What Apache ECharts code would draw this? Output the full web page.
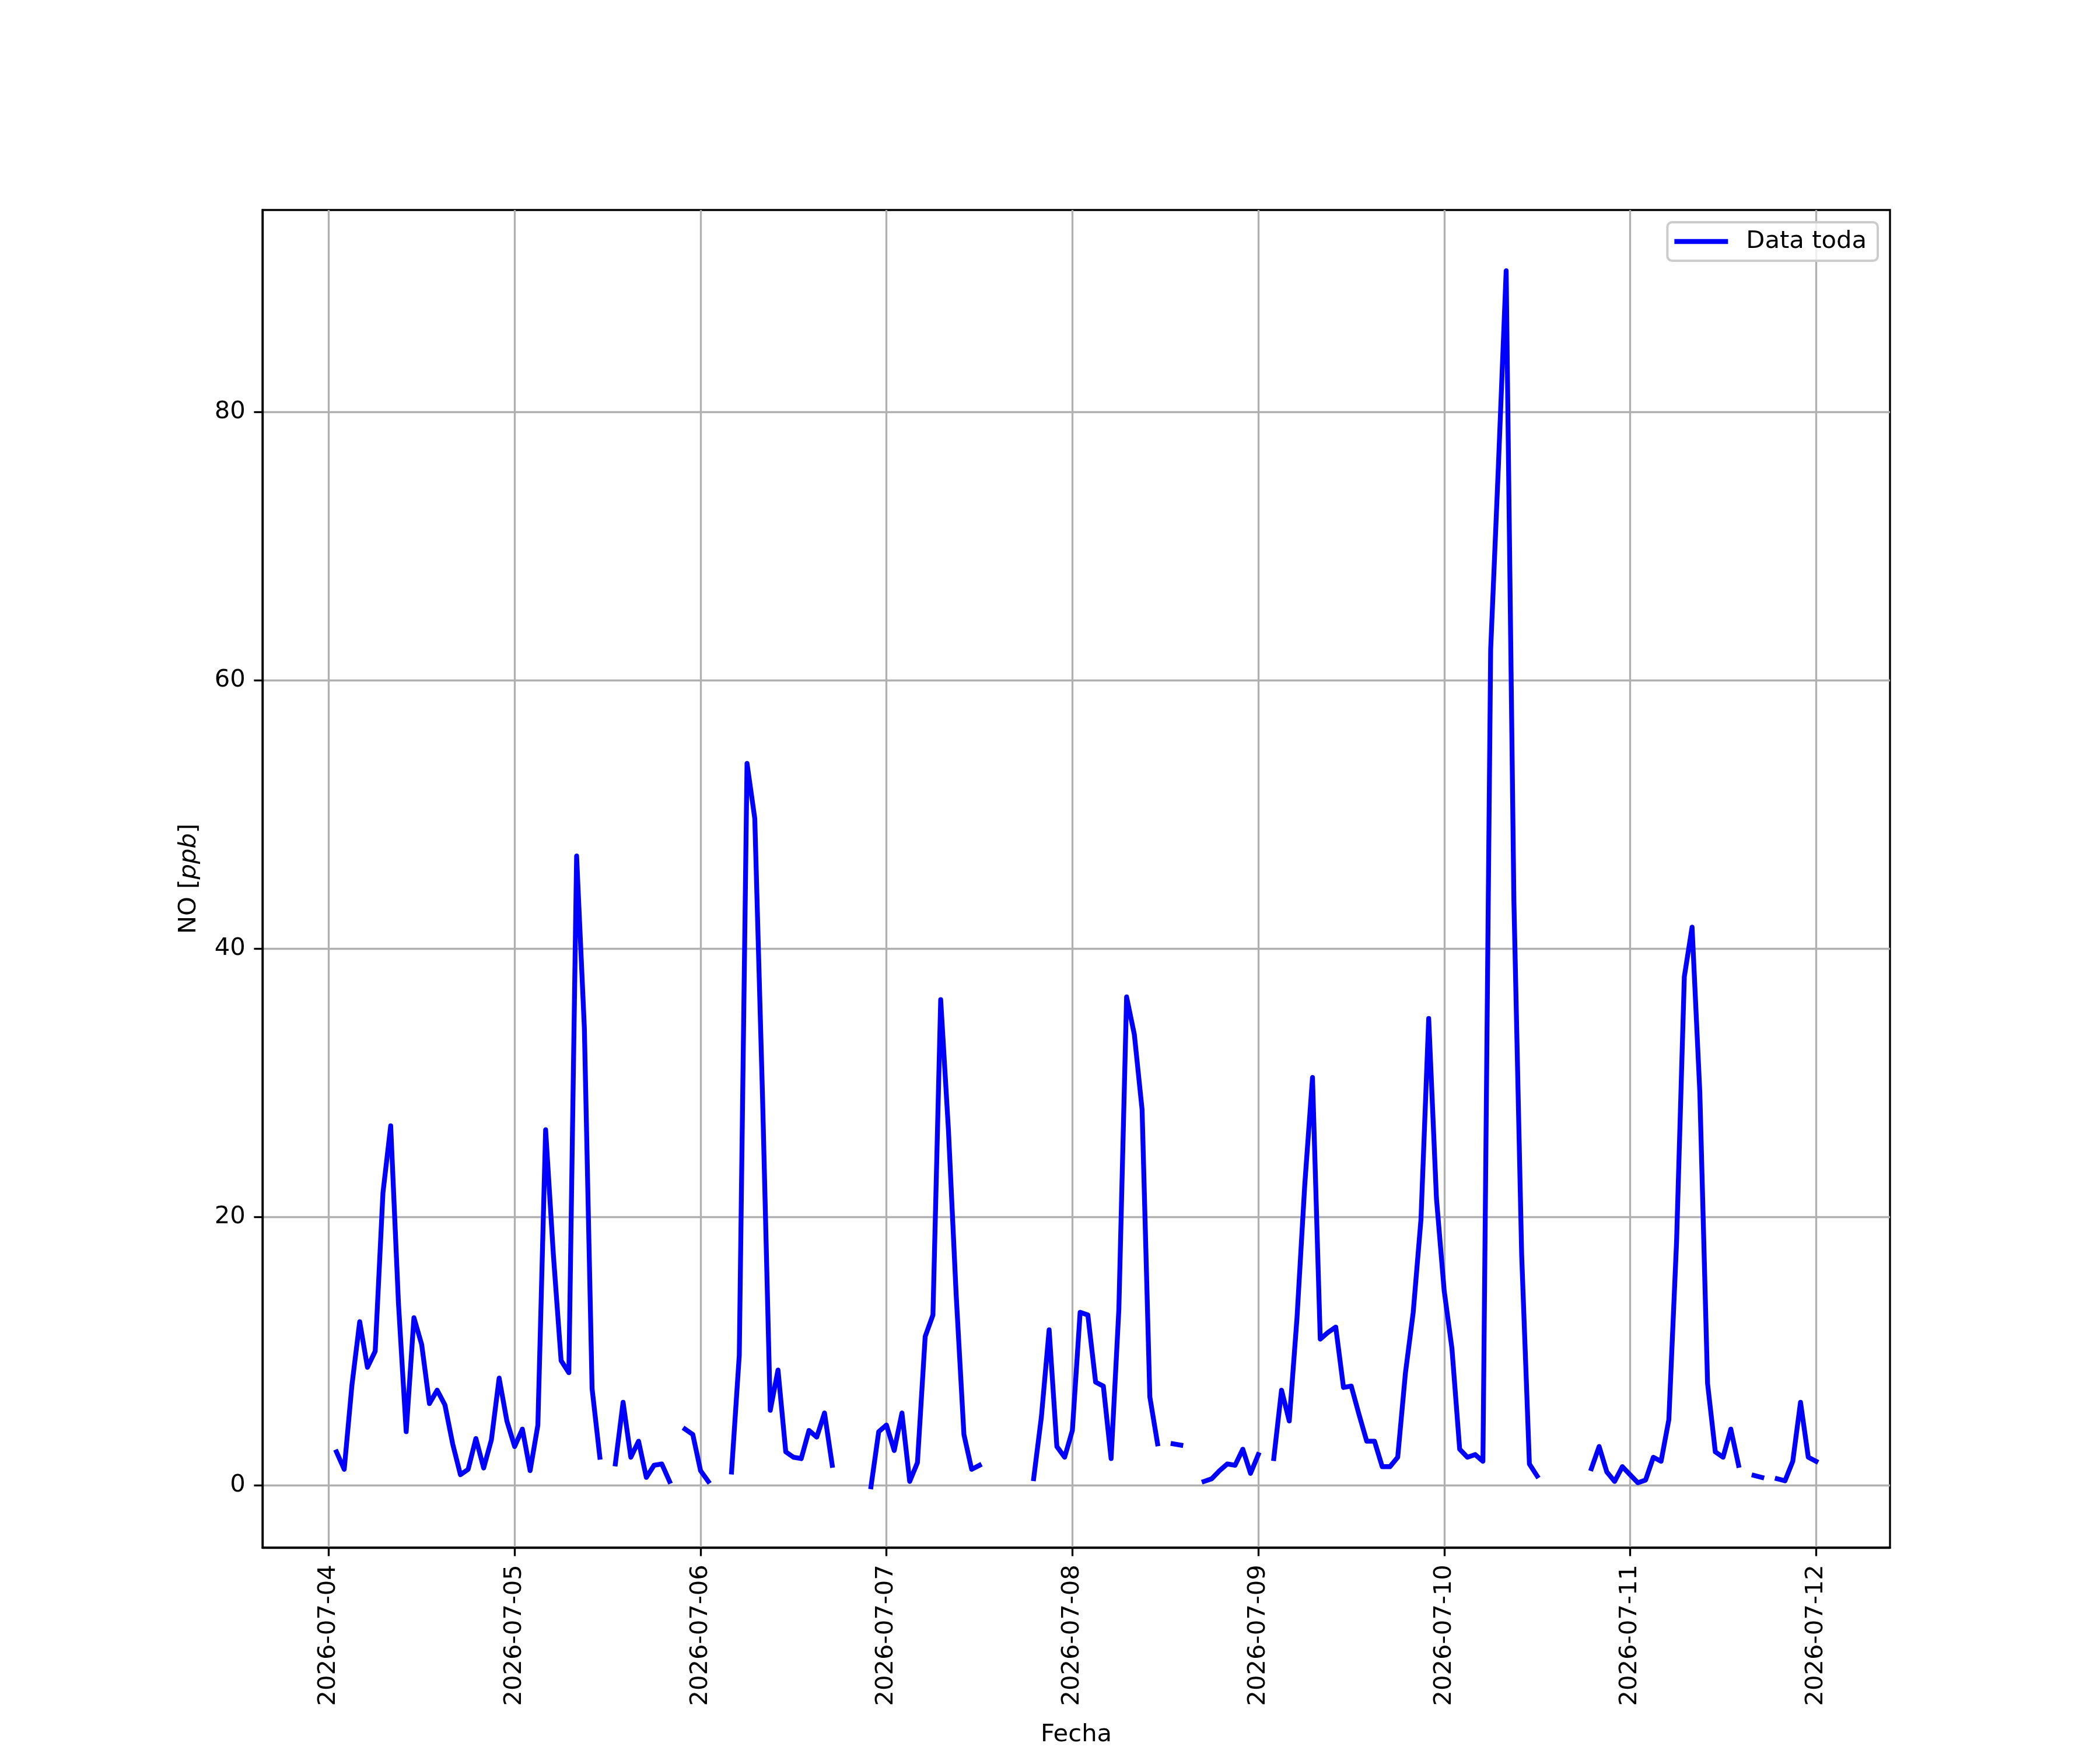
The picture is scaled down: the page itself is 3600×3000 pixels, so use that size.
<!DOCTYPE html>
<html>
<head>
<meta charset="utf-8">
<script src="https://cdn.jsdelivr.net/npm/echarts@6/dist/echarts.min.js"></script>
<style>
  html, body { margin: 0; padding: 0; background: #ffffff; }
  #chart { width: 3600px; height: 3000px; }
</style>
</head>
<body>
<div id="chart"></div>
<script>
// Hourly NO [ppb] values, one array per day (index = hour of day), null = missing
const days = ['2026-07-04','2026-07-05','2026-07-06','2026-07-07','2026-07-08','2026-07-09','2026-07-10','2026-07-11','2026-07-12'];
const no0704 = [null, 2.5, 1.2, 7.5, 12.2, 8.8, 10.0, 21.8, 26.8, 13.6, 4.0, 12.5, 10.5, 6.1, 7.1, 6.0, 3.1, 0.8, 1.2, 3.5, 1.3, 3.4, 8.0, 4.8];
const no0705 = [2.9, 4.2, 1.1, 4.5, 26.5, 17.2, 9.3, 8.4, 46.9, 34.1, 7.2, 2.1, null, 1.6, 6.2, 2.1, 3.3, 0.6, 1.5, 1.6, 0.3, null, 4.2, 3.8];
const no0706 = [1.1, 0.3, null, null, 1.0, 9.7, 53.8, 49.7, 29.0, 5.6, 8.6, 2.5, 2.1, 2.0, 4.1, 3.6, 5.4, 1.5, null, null, null, null, -0.1, 4.0];
const no0707 = [4.5, 2.6, 5.4, 0.3, 1.7, 11.1, 12.7, 36.2, 26.5, 14.2, 3.8, 1.2, 1.5, null, null, null, null, null, null, 0.5, 5.1, 11.6, 2.9, 2.1];
const no0708 = [4.1, 12.9, 12.7, 7.7, 7.4, 2.0, 13.1, 36.4, 33.6, 28.0, 6.6, 3.1, null, 3.1, 3.0, null, null, 0.3, 0.5, 1.1, 1.6, 1.5, 2.7, 0.9];
const no0709 = [2.3, null, 2.0, 7.1, 4.8, 12.5, 22.4, 30.4, 10.9, 11.4, 11.8, 7.3, 7.4, 5.3, 3.3, 3.3, 1.4, 1.4, 2.1, 8.4, 12.9, 19.8, 34.8, 21.4];
const no0710 = [14.5, 10.2, 2.7, 2.1, 2.3, 1.8, 62.3, 76.0, 90.5, 43.5, 17.2, 1.6, 0.7, null, null, null, null, null, null, 1.25, 2.9, 1.0, 0.3, 1.4];
const no0711 = [0.8, 0.2, 0.4, 2.1, 1.8, 4.9, 18.2, 37.9, 41.6, 29.3, 7.6, 2.5, 2.1, 4.2, 1.5, null, 0.75, 0.6, null, 0.5, 0.35, 1.8, 6.2, 2.1];
const no0712 = [1.8];
const dayValues = [no0704, no0705, no0706, no0707, no0708, no0709, no0710, no0711, no0712];

const xTickHours = [0, 24, 48, 72, 96, 120, 144, 168, 192];
const xTickLabels = days;
const yTickValues = [0, 20, 40, 60, 80];

// build [hoursSince 2026-07-04 00:00, value]
const seriesData = [];
dayValues.forEach((arr, d) => {
  arr.forEach((v, h) => { seriesData.push([d * 24 + h, v]); });
});

// matplotlib-like 5% margins
const valid = seriesData.filter(p => p[1] !== null);
const xs = valid.map(p => p[0]), ys = valid.map(p => p[1]);
const xMin0 = Math.min(...xs), xMax0 = Math.max(...xs);
const yMin0 = Math.min(...ys), yMax0 = Math.max(...ys);
const xPad = (xMax0 - xMin0) * 0.05, yPad = (yMax0 - yMin0) * 0.05;

const FONT = 'DejaVu Sans';
const FS = 41.7;
const LW = 3.33;

const chart = echarts.init(document.getElementById('chart'), null, { renderer: 'canvas' });
chart.setOption({
  animation: false,
  backgroundColor: '#ffffff',
  grid: {
    left: 450, right: 360, top: 360, bottom: 330,
    show: true, borderColor: '#000000', borderWidth: LW, backgroundColor: 'transparent'
  },
  legend: {
    right: 381, top: 381,
    data: [{ name: 'Data toda', icon: 'rect' }],
    itemWidth: 92, itemHeight: 8.3,
    padding: [12, 19, 12, 12],
    backgroundColor: 'rgba(255,255,255,0.8)',
    borderColor: '#cccccc', borderWidth: 4, borderRadius: 8,
    textStyle: { fontFamily: FONT, fontSize: FS, color: '#000000', padding: [0, 0, 0, 26] }
  },
  xAxis: {
    type: 'value',
    min: xMin0 - xPad, max: xMax0 + xPad,
    name: 'Fecha', nameLocation: 'middle', nameGap: 300,
    nameTextStyle: { fontFamily: FONT, fontSize: FS, color: '#000000' },
    axisLine: { show: true, onZero: false, lineStyle: { color: '#000000', width: LW } },
    axisTick: { show: true, inside: false, length: 14.6, lineStyle: { color: '#000000', width: LW }, customValues: xTickHours },
    axisLabel: {
      show: true, rotate: 90, margin: 29.2, fontFamily: FONT, fontSize: FS, color: '#000000',
      customValues: xTickHours,
      formatter: v => { const i = xTickHours.indexOf(Math.round(v)); return i >= 0 ? xTickLabels[i] : ''; }
    },
    splitLine: { show: true, lineStyle: { color: '#b0b0b0', width: LW } }
  },
  yAxis: {
    type: 'value',
    min: yMin0 - yPad, max: yMax0 + yPad,
    name: 'NO [{it|ppb}]', nameLocation: 'middle', nameGap: 105, nameRotate: 90,
    nameTextStyle: {
      fontFamily: FONT, fontSize: FS, color: '#000000',
      rich: { it: { fontFamily: FONT, fontSize: FS, fontStyle: 'italic', color: '#000000' } }
    },
    axisLine: { show: true, onZero: false, lineStyle: { color: '#000000', width: LW } },
    axisTick: { show: true, inside: false, length: 14.6, lineStyle: { color: '#000000', width: LW }, customValues: yTickValues },
    axisLabel: {
      show: true, margin: 29.2, fontFamily: FONT, fontSize: FS, color: '#000000',
      customValues: yTickValues,
      formatter: v => String(Math.round(v))
    },
    splitLine: { show: true, lineStyle: { color: '#b0b0b0', width: LW } }
  },
  series: [{
    name: 'Data toda',
    type: 'line',
    data: seriesData,
    showSymbol: false,
    connectNulls: false,
    color: '#0000ff',
    lineStyle: { color: '#0000ff', width: 8.3, cap: 'square', join: 'round' },
    emphasis: { disabled: true }
  }]
});
</script>
</body>
</html>
